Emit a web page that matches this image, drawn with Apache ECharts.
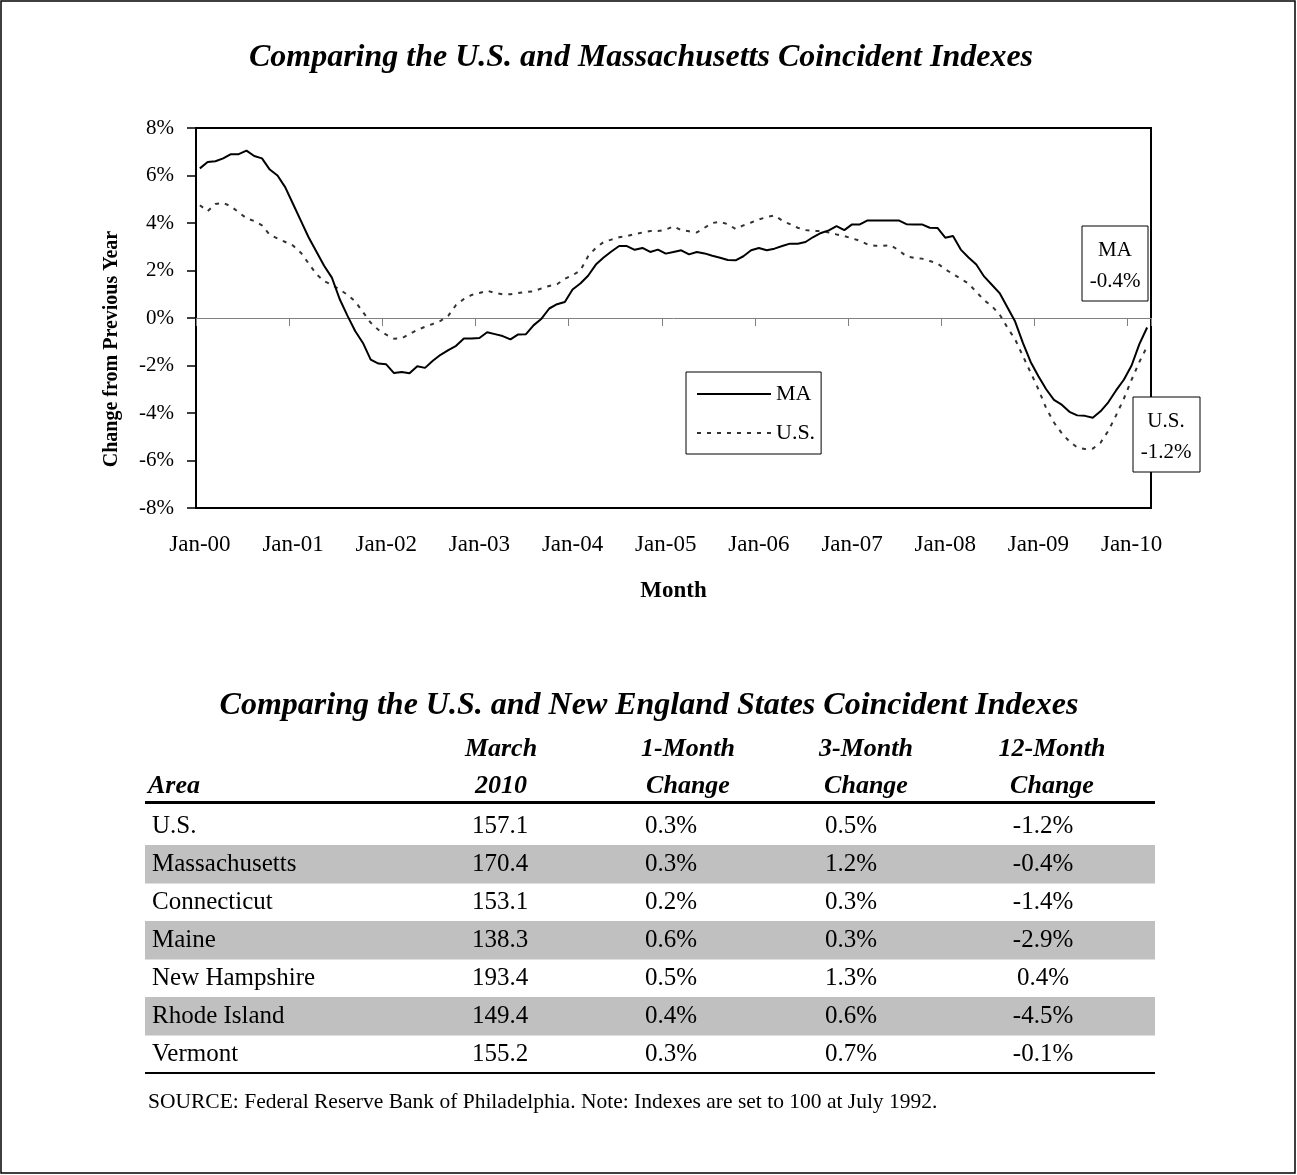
<!DOCTYPE html>
<html>
<head>
<meta charset="utf-8">
<script src="https://cdn.jsdelivr.net/npm/echarts@6/dist/echarts.min.js"></script>
<style>
  html, body { margin: 0; padding: 0; background: #fff; }
  #chart { width: 1297px; height: 1175px; }
</style>
</head>
<body>
<div id="chart"></div>
<script>
// month axis: Jan-00 .. Mar-10
const monthNames = ['Jan', 'Feb', 'Mar', 'Apr', 'May', 'Jun', 'Jul', 'Aug', 'Sep', 'Oct', 'Nov', 'Dec'];
const yearLabels = ['00', '01', '02', '03', '04', '05', '06', '07', '08', '09', '10'];

// change from previous year, %
const maValues = [
  6.3, 6.57, 6.6, 6.72, 6.9, 6.9, 7.05, 6.82, 6.72, 6.25, 6.0, 5.5,
  4.8, 4.1, 3.4, 2.8, 2.2, 1.7, 0.8, 0.1, -0.55, -1.05, -1.75, -1.92,
  -1.95, -2.32, -2.27, -2.33, -2.03, -2.1, -1.8, -1.55, -1.35, -1.17, -0.86, -0.86,
  -0.84, -0.6, -0.68, -0.76, -0.9, -0.69, -0.68, -0.3, -0.03, 0.4, 0.58, 0.67,
  1.2, 1.45, 1.78, 2.25, 2.55, 2.8, 3.03, 3.03, 2.87, 2.95, 2.78, 2.88,
  2.71, 2.78, 2.85, 2.68, 2.78, 2.72, 2.62, 2.54, 2.44, 2.43, 2.6, 2.85,
  2.95, 2.85, 2.92, 3.03, 3.13, 3.13, 3.2, 3.41, 3.58, 3.69, 3.87, 3.7,
  3.94, 3.94, 4.11, 4.11, 4.11, 4.11, 4.11, 3.95, 3.94, 3.94, 3.8, 3.79,
  3.38, 3.45, 2.88, 2.55, 2.25, 1.75, 1.4, 1.05, 0.45, -0.15, -1.05, -1.85,
  -2.45, -3.0, -3.45, -3.65, -3.95, -4.1, -4.12, -4.2, -3.93, -3.55, -3.05, -2.6,
  -2.0, -1.1, -0.4
];
const usValues = [
  4.75, 4.5, 4.8, 4.85, 4.7, 4.45, 4.2, 4.08, 3.9, 3.5, 3.35, 3.2,
  3.05, 2.75, 2.3, 1.85, 1.55, 1.4, 1.2, 0.98, 0.7, 0.25, -0.2, -0.5,
  -0.7, -0.87, -0.85, -0.68, -0.5, -0.37, -0.25, -0.12, 0.1, 0.55, 0.8, 0.97,
  1.05, 1.15, 1.05, 1.0, 1.0, 1.05, 1.1, 1.12, 1.25, 1.35, 1.42, 1.65,
  1.8, 2.0, 2.6, 2.95, 3.2, 3.3, 3.4, 3.45, 3.53, 3.6, 3.66, 3.66,
  3.72, 3.86, 3.7, 3.65, 3.6, 3.8, 4.0, 4.05, 3.95, 3.75, 3.9, 4.02,
  4.15, 4.25, 4.32, 4.1, 3.95, 3.8, 3.7, 3.66, 3.66, 3.6, 3.52, 3.45,
  3.35, 3.25, 3.1, 3.04, 3.04, 3.06, 2.85, 2.6, 2.53, 2.5, 2.4, 2.3,
  2.05, 1.85, 1.65, 1.45, 1.1, 0.75, 0.5, 0.15, -0.4, -0.9, -1.6, -2.3,
  -3.0, -3.8, -4.4, -4.85, -5.2, -5.45, -5.52, -5.5, -5.25, -4.75, -4.1, -3.4,
  -2.6, -1.85, -1.2
];

// table
const tableAreas = ['U.S.', 'Massachusetts', 'Connecticut', 'Maine', 'New Hampshire', 'Rhode Island', 'Vermont'];
const tableMarch2010 = [157.1, 170.4, 153.1, 138.3, 193.4, 149.4, 155.2];
const tableOneMonth = [0.3, 0.3, 0.2, 0.6, 0.5, 0.4, 0.3];
const tableThreeMonth = [0.5, 1.2, 0.3, 0.3, 1.3, 0.6, 0.7];
const tableTwelveMonth = [-1.2, -0.4, -1.4, -2.9, 0.4, -4.5, -0.1];

const months = [];
yearLabels.forEach(function (yy) {
  monthNames.forEach(function (m) {
    if (months.length < maValues.length) months.push(m + '-' + yy);
  });
});

const serif = '"Liberation Serif", "Times New Roman", serif';
const pct = function (v) { return v.toFixed(1) + '%'; };

let myChart = echarts.init(document.getElementById('chart'));

// text helper for graphic elements
function txt(s, x, y, size, opts) {
  opts = opts || {};
  return {
    type: 'text', x: x, y: y, z: 100,
    rotation: opts.rotation || 0,
    style: {
      text: s,
      fill: '#000',
      fontFamily: serif,
      fontSize: size,
      fontWeight: opts.bold ? 'bold' : 'normal',
      fontStyle: opts.italic ? 'italic' : 'normal',
      textAlign: opts.align || 'left',
      textVerticalAlign: 'middle',
      align: opts.align || 'left',
      verticalAlign: 'middle'
    }
  };
}

let graphics = [];
// outer frame
graphics.push({ type: 'rect', z: 0, shape: { x: 1, y: 1, width: 1294, height: 1172 }, style: { fill: 'none', stroke: '#000', lineWidth: 1.5 } });
graphics.push(txt('Comparing the U.S. and Massachusetts Coincident Indexes', 641, 58, 32, { bold: true, italic: true, align: 'center' }));
// y axis title
graphics.push(txt('Change from Previous Year', 112, 349, 20, { bold: true, align: 'center', rotation: Math.PI / 2 }));

// callout boxes
const maLast = maValues[maValues.length - 1];
const usLast = usValues[usValues.length - 1];
graphics.push({ type: 'rect', z: 99, shape: { x: 1082, y: 226, width: 66, height: 75 }, style: { fill: '#fff', stroke: '#000', lineWidth: 1 } });
graphics.push(txt('MA', 1115, 250, 21, { align: 'center' }));
graphics.push(txt(pct(maLast), 1115, 281, 21, { align: 'center' }));
graphics.push({ type: 'rect', z: 99, shape: { x: 1133, y: 397, width: 67, height: 75 }, style: { fill: '#fff', stroke: '#000', lineWidth: 1 } });
graphics.push(txt('U.S.', 1166, 421, 21, { align: 'center' }));
graphics.push(txt(pct(usLast), 1166, 452, 21, { align: 'center' }));

// table
graphics.push(txt('Comparing the U.S. and New England States Coincident Indexes', 649, 706, 32, { bold: true, italic: true, align: 'center' }));
const colX = [500, 671, 851, 1043];
const headX = [501, 688, 866, 1052];
const head1 = ['March', '1-Month', '3-Month', '12-Month'];
const head2 = ['2010', 'Change', 'Change', 'Change'];
head1.forEach(function (h, i) {
  graphics.push(txt(h, headX[i], 749, 26, { bold: true, italic: true, align: 'center' }));
  graphics.push(txt(head2[i], headX[i], 786, 26, { bold: true, italic: true, align: 'center' }));
});
graphics.push(txt('Area', 148, 786, 26, { bold: true, italic: true }));
graphics.push({ type: 'rect', z: 99, shape: { x: 145, y: 801, width: 1010, height: 3 }, style: { fill: '#000' } });

tableAreas.forEach(function (area, i) {
  const cy = 826 + 38 * i;
  if (i % 2 === 1) {
    graphics.push({ type: 'rect', z: 90, shape: { x: 145, y: cy - 19, width: 1010, height: 38.5 }, style: { fill: '#c0c0c0' } });
  }
  graphics.push(txt(area, 152, cy, 25, {}));
  graphics.push(txt(tableMarch2010[i].toFixed(1), colX[0], cy, 25, { align: 'center' }));
  graphics.push(txt(pct(tableOneMonth[i]), colX[1], cy, 25, { align: 'center' }));
  graphics.push(txt(pct(tableThreeMonth[i]), colX[2], cy, 25, { align: 'center' }));
  graphics.push(txt(pct(tableTwelveMonth[i]), colX[3], cy, 25, { align: 'center' }));
});
graphics.push({ type: 'rect', z: 99, shape: { x: 145, y: 1072, width: 1010, height: 2 }, style: { fill: '#000' } });
graphics.push(txt('SOURCE: Federal Reserve Bank of Philadelphia. Note: Indexes are set to 100 at July 1992.', 148, 1102, 21.5, {}));

let option = {
  backgroundColor: '#fff',
  animation: false,
  grid: {
    left: 196, top: 128, width: 955, height: 380,
    show: true, borderColor: '#000', borderWidth: 2,
    containLabel: false, outerBoundsMode: 'none'
  },
  legend: {
    orient: 'vertical',
    left: 686, top: 372,
    data: ['MA', 'U.S.'],
    itemWidth: 74, itemHeight: 20, itemGap: 17,
    padding: [11, 6, 10, 10],
    backgroundColor: '#fff',
    borderColor: '#000', borderWidth: 1, borderRadius: 0,
    itemStyle: { color: 'rgba(0,0,0,0)', borderColor: 'rgba(0,0,0,0)', borderWidth: 0, opacity: 0 },
    textStyle: { fontFamily: serif, fontSize: 22, color: '#000' }
  },
  xAxis: [
    {
      // zero line with yearly ticks
      type: 'category', data: months, boundaryGap: true, position: 'bottom',
      axisLine: { onZero: true, lineStyle: { color: '#808080', width: 1 } },
      axisTick: { show: true, interval: 11, length: 8, lineStyle: { color: '#808080', width: 1 } },
      axisLabel: { show: false },
      splitLine: { show: false }
    },
    {
      // labels along the bottom
      type: 'category', data: months, boundaryGap: true, position: 'bottom',
      axisLine: { show: false, onZero: false },
      axisTick: { show: false },
      axisLabel: { interval: 11, margin: 25, fontFamily: serif, fontSize: 23, color: '#000' },
      splitLine: { show: false },
      name: 'Month', nameLocation: 'middle', nameGap: 72,
      nameTextStyle: { fontFamily: serif, fontSize: 23, fontWeight: 'bold', color: '#000' }
    }
  ],
  yAxis: {
    type: 'value', min: -8, max: 8, interval: 2,
    axisLine: { show: true, lineStyle: { color: '#000', width: 2 } },
    axisTick: { show: true, length: 9, lineStyle: { color: '#000', width: 1.5 } },
    axisLabel: { formatter: function (v) { return v + '%'; }, margin: 22, fontFamily: serif, fontSize: 21, color: '#000' },
    splitLine: { show: false }
  },
  series: [
    {
      name: 'MA', type: 'line', data: maValues, xAxisIndex: 0, symbol: 'none',
      lineStyle: { color: '#000', width: 2 }, itemStyle: { color: '#000' }, z: 3
    },
    {
      name: 'U.S.', type: 'line', data: usValues, xAxisIndex: 0, symbol: 'none',
      lineStyle: { color: '#333', width: 2, type: [4, 6] }, itemStyle: { color: '#333' }, z: 2
    }
  ],
  graphic: graphics
};

myChart.setOption(option);
</script>
</body>
</html>
